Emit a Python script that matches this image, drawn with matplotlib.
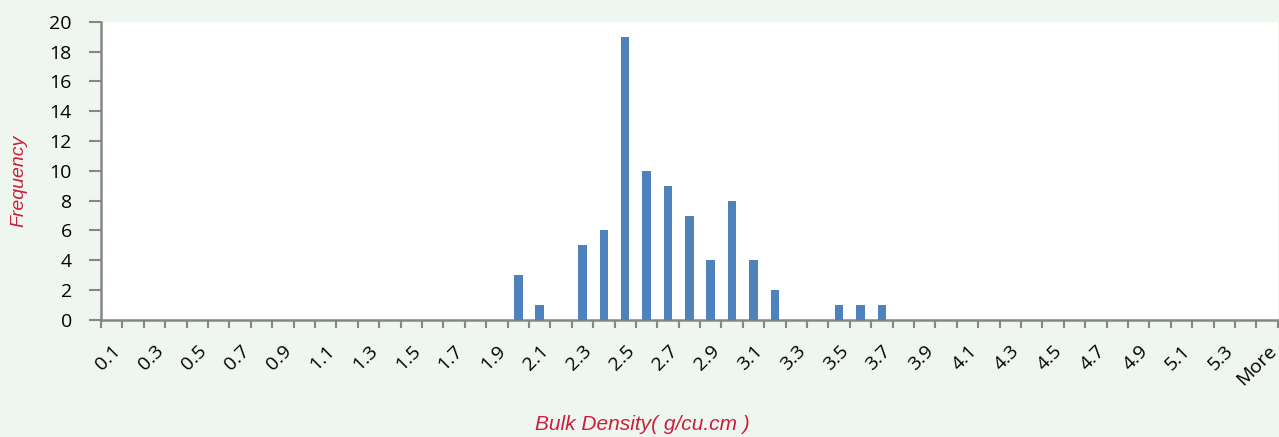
import matplotlib.pyplot as plt
import numpy as np

# bins 0.1 .. 5.4 plus "More"
bins = [f"{i / 10:.1f}" for i in range(1, 55)] + ["More"]
freq = [0] * len(bins)
counts = {"2.0": 3, "2.1": 1, "2.3": 5, "2.4": 6, "2.5": 19, "2.6": 10,
          "2.7": 9, "2.8": 7, "2.9": 4, "3.0": 8, "3.1": 4, "3.2": 2,
          "3.5": 1, "3.6": 1, "3.7": 1}
for k, v in counts.items():
  freq[bins.index(k)] = v

bg = "#eff6ef"
axis_col = "#868686"
red = "#c8203c"

fig = plt.figure(figsize=(12.79, 4.37), dpi=100, facecolor=bg)
ax = fig.add_axes([0.079, 0.268, 0.92, 0.682])
ax.set_facecolor("white")

x = np.arange(len(bins))
ax.bar(x, freq, width=0.4, color="#4f81bd", zorder=3)

ax.set_xlim(-0.5, len(bins) - 0.5)
ax.set_ylim(0, 20)
ax.set_yticks(range(0, 21, 2))

# labels on every other category, tick marks on category borders
ax.set_xticks(x[::2])
ax.set_xticklabels(bins[::2], rotation=45, ha="right", va="top",
                   rotation_mode="anchor", fontsize=14, family="Open Sans")
ax.set_xticks(np.arange(-0.5, len(bins)), minor=True)
ax.tick_params(axis="x", which="major", length=0, pad=16)
ax.tick_params(axis="x", which="minor", length=6, width=1.5, color=axis_col)
ax.tick_params(axis="y", length=9, width=1.5, color=axis_col, pad=12)
for lbl in ax.get_yticklabels():
  lbl.set_fontsize(14)
  lbl.set_family("Open Sans")

for s in ["top", "right"]:
  ax.spines[s].set_visible(False)
for s in ["left", "bottom"]:
  ax.spines[s].set_color(axis_col)
  ax.spines[s].set_linewidth(1.8)

fig.text(0.015, 0.585, "Frequency", color=red, style="italic", fontsize=14,
         family="Liberation Sans", ha="center", va="center", rotation=90)
fig.text(0.502, 0.028, "Bulk Density( g/cu.cm )", color=red, style="italic",
         fontsize=15, family="Liberation Sans", ha="center", va="center")

fig.savefig("out.png", dpi=100, facecolor=bg)
